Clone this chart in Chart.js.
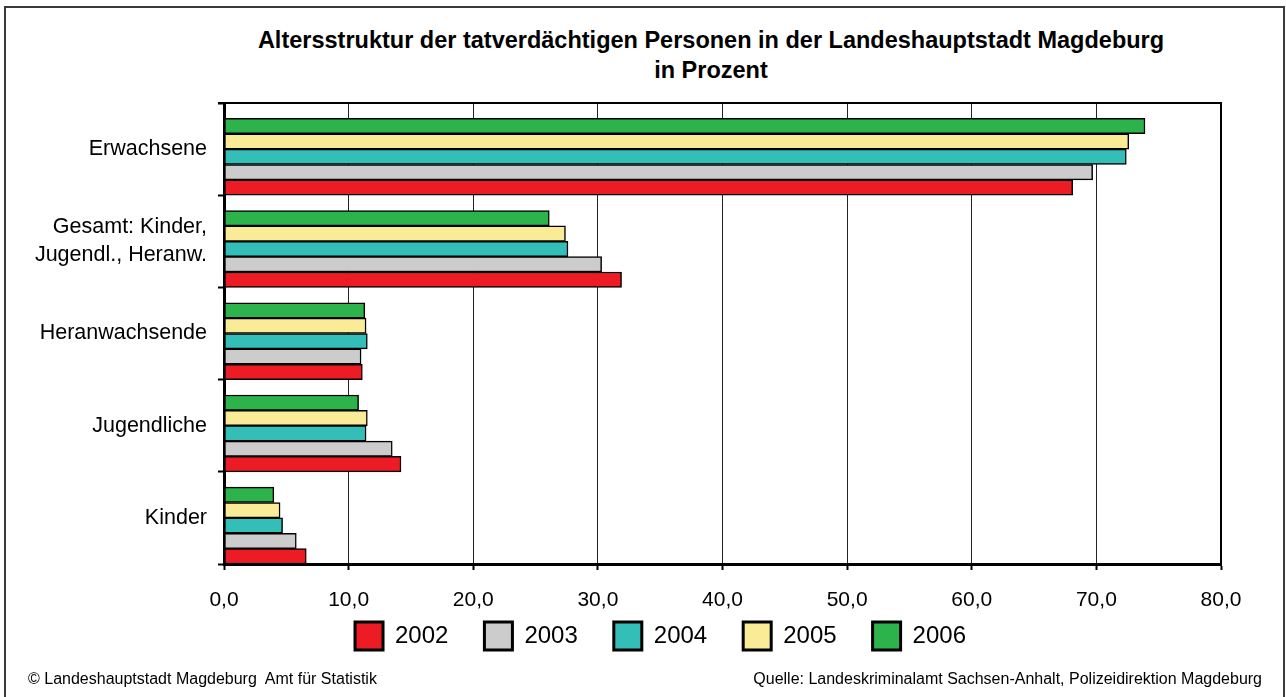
<!DOCTYPE html>
<html lang="de">
<head>
<meta charset="utf-8">
<title>Altersstruktur der tatverdächtigen Personen</title>
<script src="https://cdn.jsdelivr.net/npm/chart.js@4.4.1/dist/chart.umd.min.js"></script>
<style>
  html, body { margin: 0; padding: 0; background: #fff; }
  body { width: 1286px; height: 697px; position: relative; overflow: hidden; font-family: "Liberation Sans", Arial, sans-serif; }
  .frame { position: absolute; left: 4px; top: 6px; width: 1277px; height: 720px; border: 2px solid #3a3a3a; }
  .title { position: absolute; left: 211px; top: 25px; width: 1000px; text-align: center; font-weight: bold; font-size: 23.5px; line-height: 30px; color: #000; }
  .foot { position: absolute; top: 670px; font-size: 16px; color: #000; }
  .foot.left { left: 28px; }
  .foot.right { right: 24px; }
  #chart { position: absolute; left: 0; top: 0; }
</style>
</head>
<body>
<div class="frame"></div>
<div class="title">Altersstruktur der tatverdächtigen Personen in der Landeshauptstadt Magdeburg<br>in Prozent</div>
<canvas id="chart" width="1286" height="697"></canvas>
<div class="foot left">© Landeshauptstadt Magdeburg&nbsp; Amt für Statistik</div>
<div class="foot right">Quelle: Landeskriminalamt Sachsen-Anhalt, Polizeidirektion Magdeburg</div>

<script>
// DATA
const categories = ["Erwachsene", ["Gesamt: Kinder,", "Jugendl., Heranw."], "Heranwachsende", "Jugendliche", "Kinder"];
const years = ["2002", "2003", "2004", "2005", "2006"];
const values2002 = [68.1, 31.9, 11.1, 14.2, 6.6];
const values2003 = [69.7, 30.3, 11.0, 13.5, 5.8];
const values2004 = [72.4, 27.6, 11.5, 11.4, 4.7];
const values2005 = [72.6, 27.4, 11.4, 11.5, 4.5];
const values2006 = [73.9, 26.1, 11.3, 10.8, 4.0];
const xTickLabels = ["0,0", "10,0", "20,0", "30,0", "40,0", "50,0", "60,0", "70,0", "80,0"];

const colors = ["#ed1c24", "#cccccc", "#33bfb8", "#faec96", "#2db34b"];
const series = [values2002, values2003, values2004, values2005, values2006];

// datasets run top to bottom in each group, so newest year first;
// an empty slot on top leaves the gap above every group
const datasets = [{ label: "", data: [], backgroundColor: "transparent", borderColor: "transparent", borderWidth: 0 }];
for (let i = years.length - 1; i >= 0; i--) {
  datasets.push({
    label: years[i],
    data: series[i],
    backgroundColor: colors[i],
    borderColor: "#000",
    borderWidth: 1.5,
    borderSkipped: false,
    barPercentage: 1,
    categoryPercentage: 1
  });
}

// top and right edge of the plot
const plotFrame = {
  id: "plotFrame",
  afterDatasetsDraw(chart) {
    const { ctx, chartArea: a } = chart;
    ctx.save();
    ctx.strokeStyle = "#000";
    ctx.lineWidth = 2;
    ctx.beginPath();
    ctx.moveTo(a.left - 6, a.top);
    ctx.lineTo(a.right, a.top);
    ctx.lineTo(a.right, a.bottom);
    ctx.stroke();
    ctx.restore();
  }
};

// legend sits closer to the axis labels than its padding allows
const legendUp = {
  id: "legendUp",
  afterLayout(chart) {
    chart.legend.top -= 28;
    chart.legend.bottom -= 28;
  }
};

Chart.defaults.font.family = "'Liberation Sans', Arial, sans-serif";
Chart.defaults.color = "#000";

new Chart(document.getElementById("chart"), {
  type: "bar",
  data: { labels: categories, datasets },
  plugins: [plotFrame, legendUp],
  options: {
    indexAxis: "y",
    responsive: false,
    animation: false,
    layout: { padding: { left: 24, right: 65, top: 103, bottom: 13 } },
    scales: {
      x: {
        min: 0,
        max: 80,
        ticks: {
          stepSize: 10,
          padding: 18,
          font: { size: 21 },
          callback: (v, i) => xTickLabels[i]
        },
        grid: { color: "#222", lineWidth: 1, tickLength: 6, tickWidth: 2, tickColor: "#000" },
        border: { color: "#000", width: 3 },
        afterFit: (scale) => { scale.height = 50; }
      },
      y: {
        ticks: { padding: 11, font: { size: 21.5, lineHeight: 1.3 } },
        grid: { drawOnChartArea: false, tickLength: 6, tickWidth: 2, tickColor: "#000" },
        border: { color: "#000", width: 3 },
        afterFit: (scale) => { scale.width = 200; }
      }
    },
    plugins: {
      tooltip: { enabled: false },
      legend: {
        position: "bottom",
        maxHeight: 70,
        labels: {
          boxWidth: 28,
          boxHeight: 28,
          padding: 36,
          font: { size: 24 },
          // empty slot first (invisible), then the years in ascending order
          sort: (a, b) => a.text.localeCompare(b.text),
          generateLabels: (chart) =>
            Chart.defaults.plugins.legend.labels.generateLabels(chart)
              .map(l => l.text === "" ? l : { ...l, lineWidth: 3 })
        }
      }
    }
  }
});
</script>
</body>
</html>
